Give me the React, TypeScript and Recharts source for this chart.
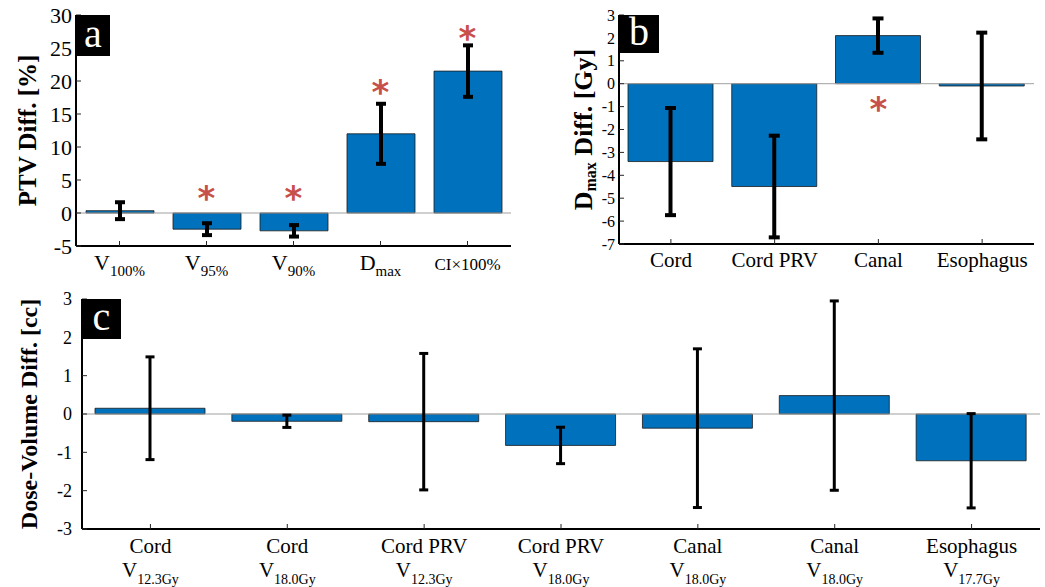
import { ComposedChart, Bar, ErrorBar, Scatter, XAxis, YAxis, ReferenceLine } from 'recharts'

const serif = "'Liberation Serif', 'Times New Roman', Times, serif"
const blue = '#0072BD'
const ink = '#262626'
const starRed = '#C8504B'

// panel a: PTV metrics
const ptvMain = ['V', 'V', 'V', 'D', 'CI×100%']
const ptvSub = ['100%', '95%', '90%', 'max', '']
const ptvDiff = [0.35, -2.45, -2.7, 12.0, 21.5]
const ptvErr = [1.28, 0.9, 0.87, 4.55, 3.9]
const ptvStar = [null, 3.5, 3.5, 19.5, 27.8]
const ptvTicks = [-5, 0, 5, 10, 15, 20, 25, 30]

// panel b: Dmax of organs at risk
const oarNames = ['Cord', 'Cord PRV', 'Canal', 'Esophagus']
const dmaxDiff = [-3.4, -4.49, 2.1, -0.1]
const dmaxErr = [2.34, 2.22, 0.75, 2.33]
const dmaxStar = [null, null, -0.74, null]
const dmaxTicks = [-7, -6, -5, -4, -3, -2, -1, 0, 1, 2, 3]

// panel c: dose-volume
const dvNames = ['Cord', 'Cord', 'Cord PRV', 'Cord PRV', 'Canal', 'Canal', 'Esophagus']
const dvSub = ['12.3Gy', '18.0Gy', '12.3Gy', '18.0Gy', '18.0Gy', '18.0Gy', '17.7Gy']
const dvDiff = [0.15, -0.19, -0.2, -0.82, -0.37, 0.48, -1.22]
const dvErr = [1.34, 0.16, 1.78, 0.475, 2.07, 2.47, 1.23]
const dvTicks = [-3, -2, -1, 0, 1, 2, 3]

const ptvData = ptvMain.map((m, i) => ({ key: 'a' + i, value: ptvDiff[i], err: ptvErr[i], star: ptvStar[i] }))
const dmaxData = oarNames.map((n, i) => ({ key: 'b' + i, value: dmaxDiff[i], err: dmaxErr[i], star: dmaxStar[i] }))
const dvData = dvNames.map((n, i) => ({ key: 'c' + i, value: dvDiff[i], err: dvErr[i] }))

function idx(payload: any) {
  const v = String(payload?.value ?? '')
  return Number(v.slice(1))
}

function PtvTick(props: any) {
  const { x, y, payload } = props
  const i = idx(payload)
  if (!ptvSub[i]) {
    return (
      <text x={x} y={y + 24} textAnchor="middle" fontFamily={serif} fontSize={17} fill="#000">
        {ptvMain[i]}
      </text>
    )
  }
  return (
    <text x={x} y={y + 24} textAnchor="middle" fontFamily={serif} fontSize={22} fill="#000">
      <tspan>{ptvMain[i]}</tspan>
      <tspan fontSize={15} dy={6}>{ptvSub[i]}</tspan>
    </text>
  )
}

function OarTick(props: any) {
  const { x, y, payload } = props
  const i = idx(payload)
  return (
    <text x={x} y={y + 23} textAnchor="middle" fontFamily={serif} fontSize={21} fill="#000">
      {oarNames[i]}
    </text>
  )
}

function DvTick(props: any) {
  const { x, y, payload } = props
  const i = idx(payload)
  return (
    <text x={x} y={y + 24} textAnchor="middle" fontFamily={serif} fontSize={21} fill="#000">
      <tspan x={x}>{dvNames[i]}</tspan>
      <tspan x={x} dy={24}>V</tspan>
      <tspan fontSize={14} dy={7}>{dvSub[i]}</tspan>
    </text>
  )
}

function Star(props: any) {
  const { cx, cy, payload } = props
  if (!payload || payload.star == null || cy == null || isNaN(cy)) return <g />
  return (
    <text x={cx} y={cy + 20} textAnchor="middle" fontFamily="'DejaVu Sans', sans-serif" fontWeight="bold" fontSize={34} fill={starRed}>
      *
    </text>
  )
}

function AxisTitle({ viewBox, cx, size, children }: any) {
  const tx = (viewBox?.x ?? 0) + cx
  const ty = (viewBox?.y ?? 0) + (viewBox?.height ?? 0) / 2
  return (
    <text
      transform={`translate(${tx},${ty}) rotate(-90)`}
      textAnchor="middle"
      dominantBaseline="central"
      fontFamily={serif}
      fontWeight="bold"
      fontSize={size}
      fill="#000"
    >
      {children}
    </text>
  )
}

function PanelTag({ letter, left, top, w, h }: any) {
  return (
    <div
      style={{
        position: 'absolute',
        left,
        top,
        width: w,
        height: h,
        background: '#000',
        color: '#fff',
        fontFamily: serif,
        fontSize: 40,
        lineHeight: `${h - 4}px`,
        textAlign: 'center',
      }}
    >
      {letter}
    </div>
  )
}

const tickStyle = (size: number) => ({ fontFamily: serif, fontSize: size, fill: '#000' })

export default function App() {
  return (
    <div style={{ position: 'absolute', left: 0, top: 0, width: 1045, height: 587, background: '#fff' }}>
      {/* a */}
      <div style={{ position: 'absolute', left: 0, top: 0 }}>
        <ComposedChart width={520} height={290} data={ptvData} margin={{ top: 15, right: 9, bottom: 0, left: 0 }}>
          <XAxis dataKey="key" height={44} tick={<PtvTick />} tickSize={-5} tickMargin={5} interval={0}
            axisLine={{ stroke: '#000', strokeWidth: 2 }} tickLine={{ stroke: ink }} />
          <XAxis xAxisId="top" orientation="top" dataKey="key" height={0} tick={false} tickSize={-5}
            axisLine={{ stroke: ink, strokeWidth: 1.5 }} tickLine={{ stroke: ink }} />
          <YAxis width={76} domain={[-5, 30]} ticks={ptvTicks} interval={0} allowDataOverflow tickSize={-5} tickMargin={9}
            tick={tickStyle(22)} axisLine={{ stroke: '#000', strokeWidth: 2 }} tickLine={{ stroke: ink }}
            label={(p: any) => <AxisTitle viewBox={p.viewBox} cx={27} size={25}>PTV Diff. [%]</AxisTitle>} />
          <YAxis yAxisId="right" orientation="right" width={0} domain={[-5, 30]} ticks={ptvTicks} interval={0} allowDataOverflow
            tick={false} tickSize={-5} axisLine={{ stroke: ink, strokeWidth: 1.5 }} tickLine={{ stroke: ink }} />
          <ReferenceLine y={0} stroke="#a0a0a0" strokeWidth={1} />
          <Bar dataKey="value" fill={blue} stroke="#1a1a1a" strokeWidth={0.8} barSize={68} isAnimationActive={false}>
            <ErrorBar dataKey="err" width={5} stroke="#000" strokeWidth={4} isAnimationActive={false} />
          </Bar>
          <Scatter dataKey="star" shape={<Star />} isAnimationActive={false} />
        </ComposedChart>
        <PanelTag letter="a" left={76} top={15} w={34} h={41} />
      </div>

      {/* b */}
      <div style={{ position: 'absolute', left: 520, top: 0 }}>
        <ComposedChart width={525} height={290} data={dmaxData} margin={{ top: 15, right: 11, bottom: 0, left: 0 }}>
          <XAxis dataKey="key" height={46} tick={<OarTick />} tickSize={-5} tickMargin={5} interval={0}
            axisLine={{ stroke: '#000', strokeWidth: 2 }} tickLine={{ stroke: ink }} />
          <XAxis xAxisId="top" orientation="top" dataKey="key" height={0} tick={false} tickSize={-5}
            axisLine={{ stroke: ink, strokeWidth: 1.5 }} tickLine={{ stroke: ink }} />
          <YAxis width={99} domain={[-7, 3]} ticks={dmaxTicks} interval={0} allowDataOverflow tickSize={-5} tickMargin={9}
            tick={tickStyle(16)} axisLine={{ stroke: '#000', strokeWidth: 2 }} tickLine={{ stroke: ink }}
            label={(p: any) => (
              <AxisTitle viewBox={p.viewBox} cx={63} size={26}>
                <tspan>D</tspan>
                <tspan fontSize={16} dy={7}>max</tspan>
                <tspan dy={-7}> Diff. [Gy]</tspan>
              </AxisTitle>
            )} />
          <YAxis yAxisId="right" orientation="right" width={0} domain={[-7, 3]} ticks={dmaxTicks} interval={0} allowDataOverflow
            tick={false} tickSize={-5} axisLine={{ stroke: ink, strokeWidth: 1.5 }} tickLine={{ stroke: ink }} />
          <ReferenceLine y={0} stroke="#a0a0a0" strokeWidth={1} />
          <Bar dataKey="value" fill={blue} stroke="#1a1a1a" strokeWidth={0.8} barSize={85} isAnimationActive={false}>
            <ErrorBar dataKey="err" width={5.5} stroke="#000" strokeWidth={4} isAnimationActive={false} />
          </Bar>
          <Scatter dataKey="star" shape={<Star />} isAnimationActive={false} />
        </ComposedChart>
        <PanelTag letter="b" left={99} top={15} w={40} h={38} />
      </div>

      {/* c */}
      <div style={{ position: 'absolute', left: 0, top: 280 }}>
        <ComposedChart width={1045} height={307} data={dvData} margin={{ top: 19, right: 5, bottom: 0, left: 0 }}>
          <XAxis dataKey="key" height={58} tick={<DvTick />} tickSize={-5} tickMargin={5} interval={0}
            axisLine={{ stroke: '#000', strokeWidth: 2 }} tickLine={{ stroke: ink }} />
          <XAxis xAxisId="top" orientation="top" dataKey="key" height={0} tick={false} tickSize={-5}
            axisLine={{ stroke: ink, strokeWidth: 1.5 }} tickLine={{ stroke: ink }} />
          <YAxis width={82} domain={[-3, 3]} ticks={dvTicks} interval={0} allowDataOverflow tickSize={-5} tickMargin={15}
            tick={tickStyle(18)} axisLine={{ stroke: '#000', strokeWidth: 2 }} tickLine={{ stroke: ink }}
            label={(p: any) => <AxisTitle viewBox={p.viewBox} cx={29} size={24}>Dose-Volume Diff. [cc]</AxisTitle>} />
          <YAxis yAxisId="right" orientation="right" width={0} domain={[-3, 3]} ticks={dvTicks} interval={0} allowDataOverflow
            tick={false} tickSize={-5} axisLine={{ stroke: ink, strokeWidth: 1.5 }} tickLine={{ stroke: ink }} />
          <ReferenceLine y={0} stroke="#a0a0a0" strokeWidth={1} />
          <Bar dataKey="value" fill={blue} stroke="#1a1a1a" strokeWidth={0.8} barSize={110} isAnimationActive={false}>
            <ErrorBar dataKey="err" width={4.5} stroke="#000" strokeWidth={3} isAnimationActive={false} />
          </Bar>
        </ComposedChart>
        <PanelTag letter="c" left={82} top={19} w={39} h={40} />
      </div>
    </div>
  )
}
